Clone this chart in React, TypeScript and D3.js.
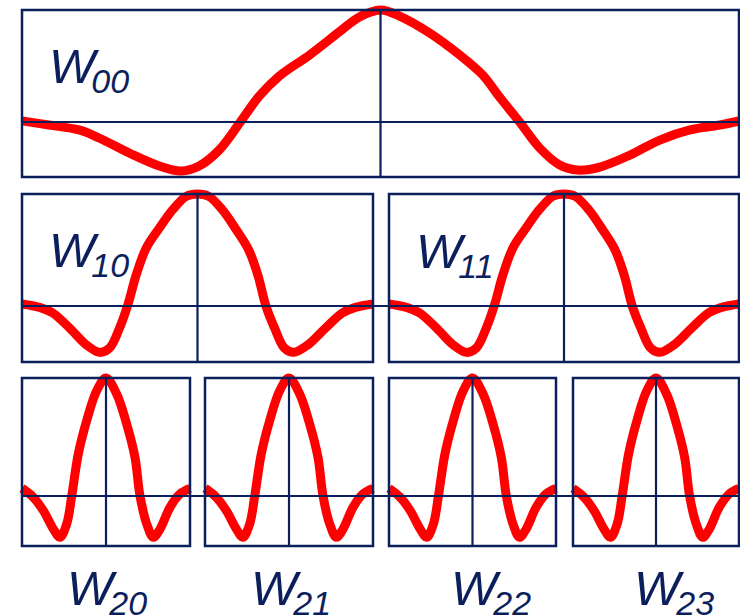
import * as d3 from "d3";

// normalized wavelet shapes: u = position across panel (-1..1), v = height (peak = 1)
const level0U = [-1, -0.925, -0.841, -0.785, -0.701, -0.617, -0.556, -0.506, -0.45, -0.391, -0.338, -0.282, -0.198, -0.115, -0.059, 0, 0.053, 0.137, 0.221, 0.285, 0.332, 0.388, 0.444, 0.5, 0.55, 0.612, 0.696, 0.779, 0.863, 0.947, 1];
const level0V = [0.01, -0.027, -0.071, -0.143, -0.277, -0.393, -0.438, -0.393, -0.25, 0, 0.232, 0.411, 0.598, 0.804, 0.938, 1, 0.946, 0.795, 0.598, 0.42, 0.223, 0, -0.232, -0.384, -0.429, -0.402, -0.295, -0.161, -0.071, -0.027, 0.009];

const level1U = [-1, -0.9, -0.825, -0.729, -0.634, -0.558, -0.501, -0.444, -0.397, -0.349, -0.292, -0.217, -0.141, -0.064, 0, 0.064, 0.141, 0.217, 0.292, 0.345, 0.39, 0.44, 0.495, 0.548, 0.63, 0.73, 0.825, 0.9, 1];
const level1V = [0.018, -0.012, -0.062, -0.196, -0.346, -0.414, -0.375, -0.196, 0.01, 0.279, 0.518, 0.696, 0.86, 0.979, 1, 0.979, 0.86, 0.69, 0.5, 0.27, 0, -0.2, -0.375, -0.414, -0.346, -0.196, -0.062, -0.012, 0.018];

const level2U = [-1, -0.865, -0.746, -0.627, -0.548, -0.468, -0.408, -0.33, -0.23, -0.111, 0, 0.127, 0.246, 0.345, 0.405, 0.485, 0.563, 0.643, 0.762, 0.881, 1];
const level2V = [0.065, -0.011, -0.124, -0.28, -0.35, -0.237, 0, 0.356, 0.638, 0.892, 1, 0.864, 0.61, 0.328, 0, -0.237, -0.35, -0.28, -0.096, 0.017, 0.065];

const level0Names = ["00"];
const level1Names = ["10", "11"];
const level2Names = ["20", "21", "22", "23"];

const NAVY = "#0b1f5c";
const RED = "#ff0000";

type Row = {
  u: number[];
  v: number[];
  names: string[];
  panels: [number, number][];
  top: number;
  bottom: number;
  axis: number;
};

const rows: Row[] = [
  { u: level0U, v: level0V, names: level0Names, panels: [[22, 739]], top: 10, bottom: 177, axis: 122 },
  { u: level1U, v: level1V, names: level1Names, panels: [[22, 373], [389, 739]], top: 194, bottom: 362, axis: 306 },
  {
    u: level2U, v: level2V, names: level2Names,
    panels: [[22, 190], [205, 373], [389, 556], [573, 739]],
    top: 378, bottom: 546, axis: 496,
  },
];

// label positions (W baseline) per row
const labelPos = [
  [{ x: 49, y: 83 }],
  [{ x: 49, y: 267 }, { x: 416, y: 268 }],
  [{ x: 67, y: 605 }, { x: 251, y: 605 }, { x: 451, y: 605 }, { x: 634, y: 605 }],
];

function Label({ x, y, sub }: { x: number; y: number; sub: string }) {
  return (
    <text
      x={x}
      y={y}
      fill={NAVY}
      fontFamily="'Liberation Sans', Arial, sans-serif"
      fontStyle="italic"
      fontSize={49}
    >
      W
      <tspan fontSize={34} dx={-4} dy={10}>
        {sub}
      </tspan>
    </text>
  );
}

export default function App() {
  const line = d3
    .line<[number, number]>()
    .x((d) => d[0])
    .y((d) => d[1])
    .curve(d3.curveCatmullRom.alpha(0.5));

  return (
    <svg
      width={740}
      height={616}
      style={{ position: "absolute", left: 0, top: 0, background: "#fff" }}
    >
      {rows.map((row, ri) => {
        const y = d3.scaleLinear().domain([0, 1]).range([row.axis, row.top]);
        const left = row.panels[0][0];
        const right = row.panels[row.panels.length - 1][1];
        return (
          <g key={ri}>
            {row.panels.map(([x0, x1], pi) => {
              const x = d3.scaleLinear().domain([-1, 1]).range([x0, x1]);
              const pts = row.u.map((u, i) => [x(u), y(row.v[i])] as [number, number]);
              return (
                <path
                  key={"c" + pi}
                  d={line(pts) || ""}
                  fill="none"
                  stroke={RED}
                  strokeWidth={9}
                  strokeLinejoin="round"
                />
              );
            })}
            <line x1={left} x2={right} y1={row.axis} y2={row.axis} stroke={NAVY} strokeWidth={2.2} />
            {row.panels.map(([x0, x1], pi) => {
              const x = d3.scaleLinear().domain([-1, 1]).range([x0, x1]);
              return (
                <g key={"b" + pi}>
                  <line x1={x(0)} x2={x(0)} y1={row.top} y2={row.bottom} stroke={NAVY} strokeWidth={2.2} />
                  <rect
                    x={x0}
                    y={row.top}
                    width={x1 - x0}
                    height={row.bottom - row.top}
                    fill="none"
                    stroke={NAVY}
                    strokeWidth={2.5}
                  />
                </g>
              );
            })}
            {row.names.map((n, ni) => (
              <Label key={"l" + ni} x={labelPos[ri][ni].x} y={labelPos[ri][ni].y} sub={n} />
            ))}
          </g>
        );
      })}
    </svg>
  );
}
